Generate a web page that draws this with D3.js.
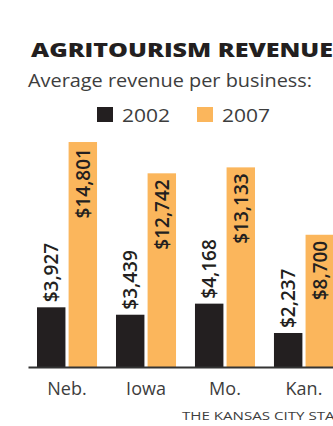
<!DOCTYPE html>
<html>
<head>
<meta charset="utf-8">
<script src="https://cdn.jsdelivr.net/npm/d3@7"></script>
<style>
  body { margin: 0; background: #fff; }
  svg { display: block; font-family: "Open Sans", sans-serif; }
</style>
</head>
<body>
<div id="chart"></div>
<script>
const states = ["Neb.", "Iowa", "Mo.", "Kan."];
const years = ["2002", "2007"];
const revenue2002 = [3927, 3439, 4168, 2237];
const revenue2007 = [14801, 12742, 13133, 8700];

const width = 333, height = 426;
const baseline = 367;

const colors = {
    "2002": "#231f20", // near black
    "2007": "#fbb65c"  // orange
};

const data = states.map((s, i) => ({
    state: s,
    values: [
        {year: "2002", value: revenue2002[i]},
        {year: "2007", value: revenue2007[i]}
    ]
}));

const svg = d3.select("#chart").append("svg")
    .attr("width", width)
    .attr("height", height);

// Title (wide bold face, stretched to the printed width)
svg.append("text")
    .attr("x", 31)
    .attr("y", 57)
    .attr("font-size", "18.5px")
    .attr("font-weight", 800)
    .attr("fill", "#231f20")
    .attr("textLength", 302)
    .attr("lengthAdjust", "spacingAndGlyphs")
    .text("AGRITOURISM REVENUE");

svg.append("text")
    .attr("x", 28)
    .attr("y", 87)
    .attr("font-size", "18px")
    .attr("fill", "#3d3d3d")
    .attr("textLength", 284)
    .attr("lengthAdjust", "spacingAndGlyphs")
    .text("Average revenue per business:");

// Legend
const legend = svg.append("g");
const legendX = [97, 197];
years.forEach((yr, i) => {
    legend.append("rect")
        .attr("x", legendX[i])
        .attr("y", 107)
        .attr("width", 16)
        .attr("height", 15)
        .attr("fill", colors[yr]);
    legend.append("text")
        .attr("x", legendX[i] + 25)
        .attr("y", 122)
        .attr("font-size", "19px")
        .attr("fill", "#3d3d3d")
        .attr("textLength", 48)
        .attr("lengthAdjust", "spacingAndGlyphs")
        .text(yr);
});

// Scales
const x = d3.scaleBand()
    .domain(states)
    .range([28, 343])
    .paddingInner(0.24)
    .paddingOuter(0.114);

const xSub = d3.scaleBand()
    .domain(years)
    .range([0, x.bandwidth()])
    .paddingInner(0.1);

const y = d3.scaleLinear()
    .domain([0, 15000])
    .range([baseline, baseline - 228]);

const fmt = d3.format("$,");

const groups = svg.selectAll(".group")
    .data(data)
    .enter().append("g")
    .attr("class", "group")
    .attr("transform", d => `translate(${x(d.state)},0)`);

groups.selectAll("rect")
    .data(d => d.values)
    .enter().append("rect")
    .attr("x", d => xSub(d.year))
    .attr("y", d => y(d.value))
    .attr("width", xSub.bandwidth())
    .attr("height", d => baseline - y(d.value))
    .attr("fill", d => colors[d.year]);

// Value labels, rotated: 2002 above bar, 2007 inside top of bar
groups.selectAll(".val")
    .data(d => d.values)
    .enter().append("text")
    .attr("class", "val")
    .attr("transform", d => {
        const cx = xSub(d.year) + xSub.bandwidth() / 2;
        const ty = d.year === "2002" ? y(d.value) - 5 : y(d.value) + 6;
        return `translate(${cx},${ty}) rotate(-90)`;
    })
    .attr("text-anchor", d => d.year === "2002" ? "start" : "end")
    .attr("dy", "0.36em")
    .attr("font-size", "19px")
    .attr("font-weight", 600)
    .attr("fill", "#231f20")
    .text(d => fmt(d.value));

// X axis
const xAxis = svg.append("g")
    .attr("transform", `translate(0,${baseline})`)
    .call(d3.axisBottom(x).tickSize(0).tickPadding(15));

xAxis.select(".domain")
    .attr("stroke", "#333")
    .attr("stroke-width", 2);

xAxis.selectAll("text")
    .attr("font-size", "18px")
    .attr("font-family", "Open Sans, sans-serif")
    .attr("fill", "#3d3d3d");

// Source
svg.append("text")
    .attr("x", 182)
    .attr("y", 420)
    .attr("font-size", "11.5px")
    .attr("fill", "#3d3d3d")
    .attr("textLength", 162)
    .attr("lengthAdjust", "spacingAndGlyphs")
    .text("THE KANSAS CITY STAR");
</script>
</body>
</html>
